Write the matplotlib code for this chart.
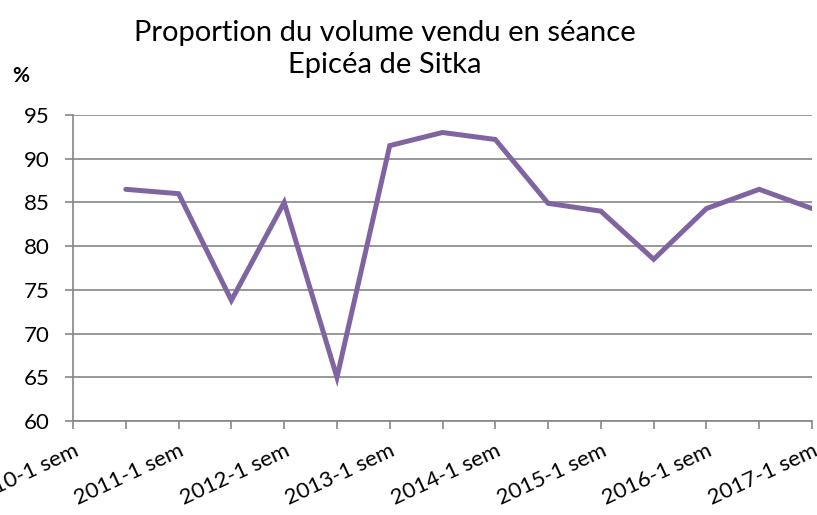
import matplotlib
matplotlib.use("Agg")
import matplotlib.pyplot as plt
import numpy as np

# semesters, only the first-semester ones get a label
categories = ["2010-1 sem", "2010-2 sem", "2011-1 sem", "2011-2 sem", "2012-1 sem",
              "2012-2 sem", "2013-1 sem", "2013-2 sem", "2014-1 sem", "2014-2 sem",
              "2015-1 sem", "2015-2 sem", "2016-1 sem", "2016-2 sem", "2017-1 sem"]
share = [np.nan, 86.5, 86.0, 73.8, 85.0, 65.0, 91.5, 93.0, 92.2, 84.9,
         84.0, 78.5, 84.3, 86.5, 84.3]
yticks = [60, 65, 70, 75, 80, 85, 90, 95]

plt.rcParams['font.family'] = ['Lato', 'DejaVu Sans']
grey = '#868686'

fig = plt.figure(figsize=(8.17, 5.15), dpi=100)
ax = fig.add_axes([0.0894, 0.1825, 0.9045, 0.5942])

x = np.arange(len(categories))
ax.plot(x, share, color='#8064A2', lw=3.6, solid_joinstyle='miter',
        solid_capstyle='round', zorder=3)

ax.set_xlim(0, len(categories) - 1)
ax.set_ylim(60, 95)
ax.set_yticks(yticks)
ax.set_yticklabels([str(t) for t in yticks], fontsize=16)
ax.set_xticks(x)
ax.set_xticklabels([c if i % 2 == 0 else '' for i, c in enumerate(categories)],
                   rotation=25, ha='right', rotation_mode='anchor', fontsize=16)
ax.grid(axis='y', color=grey, lw=1.2)
ax.set_axisbelow(True)

for s in ['top', 'right']:
    ax.spines[s].set_visible(False)
for s in ['left', 'bottom']:
    ax.spines[s].set_color(grey)
    ax.spines[s].set_linewidth(1.2)
ax.tick_params(direction='out', length=5.8, width=1.2, color=grey)
ax.tick_params(axis='x', pad=8)
ax.tick_params(axis='y', pad=11)

fig.text(0.471, 0.905, "Proportion du volume vendu en séance\nEpicéa de Sitka",
         ha='center', va='center', fontsize=21, linespacing=1.28)
fig.text(0.026, 0.853, "%", fontsize=15, fontweight='bold', ha='center', va='center')

fig.savefig("out.png", dpi=100)
